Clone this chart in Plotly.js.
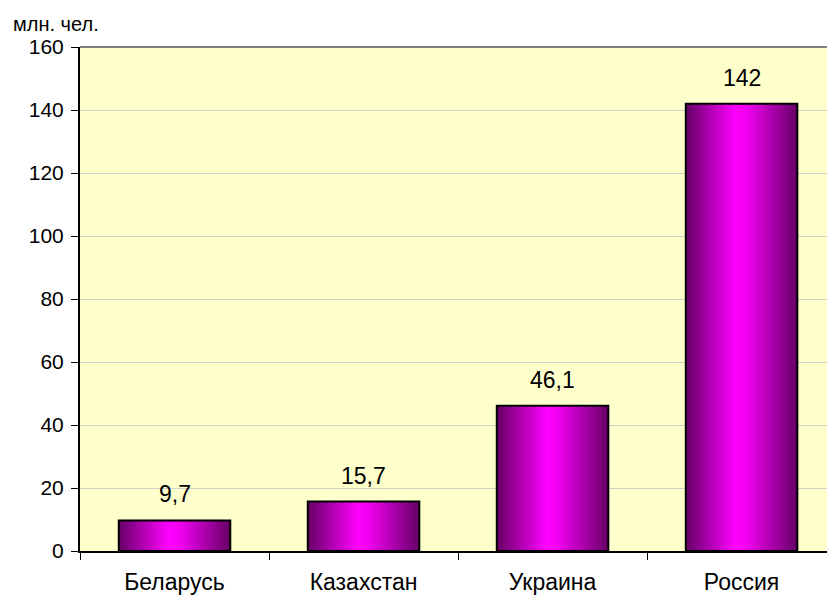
<!DOCTYPE html>
<html>
<head>
<meta charset="utf-8">
<script src="https://cdn.plot.ly/plotly-3.0.1.min.js"></script>
<style>html,body{margin:0;padding:0;background:#fff;}#chart{width:827px;height:596px;}</style>
</head>
<body>
<div id="chart"></div>
<script>
const categories = ["Беларусь", "Казахстан", "Украина", "Россия"];
const values = [9.7, 15.7, 46.1, 142];
const valueLabels = ["9,7", "15,7", "46,1", "142"];
const yTicks = [0, 20, 40, 60, 80, 100, 120, 140, 160];
const unitLabel = "млн. чел.";

const FONT = "Liberation Sans, Arial, sans-serif";

const trace = {
  type: "bar",
  x: categories,
  y: values,
  width: 0.59,
  marker: { color: "#cc00cc", line: { color: "#000000", width: 2 } },
  hoverinfo: "none"
};

const annotations = categories.map((c, i) => ({
  x: c, y: values[i], xref: "x", yref: "y",
  text: valueLabels[i], showarrow: false,
  yanchor: "middle", yshift: 26,
  font: { family: FONT, size: 23, color: "#000" }
}));
annotations.push({
  x: (11 - 80) / 747, y: 1 + (47 - 24) / 504, xref: "paper", yref: "paper",
  text: unitLabel, showarrow: false, xanchor: "left", yanchor: "middle",
  font: { family: FONT, size: 20, color: "#000" }
});

const layout = {
  width: 827, height: 596,
  margin: { l: 80, r: 0, t: 47, b: 45, pad: 0 },
  paper_bgcolor: "#ffffff",
  plot_bgcolor: "#FFFFCC",
  showlegend: false,
  font: { family: FONT, size: 20, color: "#000" },
  xaxis: {
    type: "category",
    range: [-0.5, 3.452],
    tickson: "boundaries",
    ticks: "outside", ticklen: 7, tickwidth: 1, tickcolor: "#000",
    showline: true, linecolor: "#000", linewidth: 2,
    showgrid: false, zeroline: false,
    ticklabelstandoff: 9,
    tickfont: { family: FONT, size: 23, color: "#000" }
  },
  yaxis: {
    range: [0, 160],
    tickvals: yTicks,
    ticktext: yTicks.map(String),
    ticks: "outside", ticklen: 7, tickwidth: 1, tickcolor: "#000",
    showline: true, linecolor: "#000", linewidth: 2,
    showgrid: true, gridcolor: "#d0d0c8", gridwidth: 1,
    zeroline: false,
    ticklabelstandoff: 3,
    tickfont: { family: FONT, size: 21, color: "#000" }
  },
  shapes: [{
    type: "line", xref: "paper", yref: "paper",
    x0: 0, x1: 1, y0: 1, y1: 1,
    line: { color: "#808080", width: 2 }
  }],
  annotations: annotations
};

Plotly.newPlot("chart", [trace], layout, { staticPlot: true, displayModeBar: false }).then(gd => {
  const svg = gd.querySelector("svg.main-svg");
  const ns = "http://www.w3.org/2000/svg";
  let defs = svg.querySelector("defs");
  if (!defs) { defs = document.createElementNS(ns, "defs"); svg.insertBefore(defs, svg.firstChild); }
  const lg = document.createElementNS(ns, "linearGradient");
  lg.setAttribute("id", "barGrad");
  lg.setAttribute("x1", "0"); lg.setAttribute("y1", "0");
  lg.setAttribute("x2", "1"); lg.setAttribute("y2", "0");
  [["0", "#660066"], ["0.45", "#ff00ff"], ["0.55", "#f000f0"], ["1", "#660066"]].forEach(([o, c]) => {
    const s = document.createElementNS(ns, "stop");
    s.setAttribute("offset", o); s.setAttribute("stop-color", c);
    lg.appendChild(s);
  });
  defs.appendChild(lg);
  gd.querySelectorAll(".trace.bars .point path").forEach(p => { p.style.fill = "url(#barGrad)"; });
});
</script>
</body>
</html>
